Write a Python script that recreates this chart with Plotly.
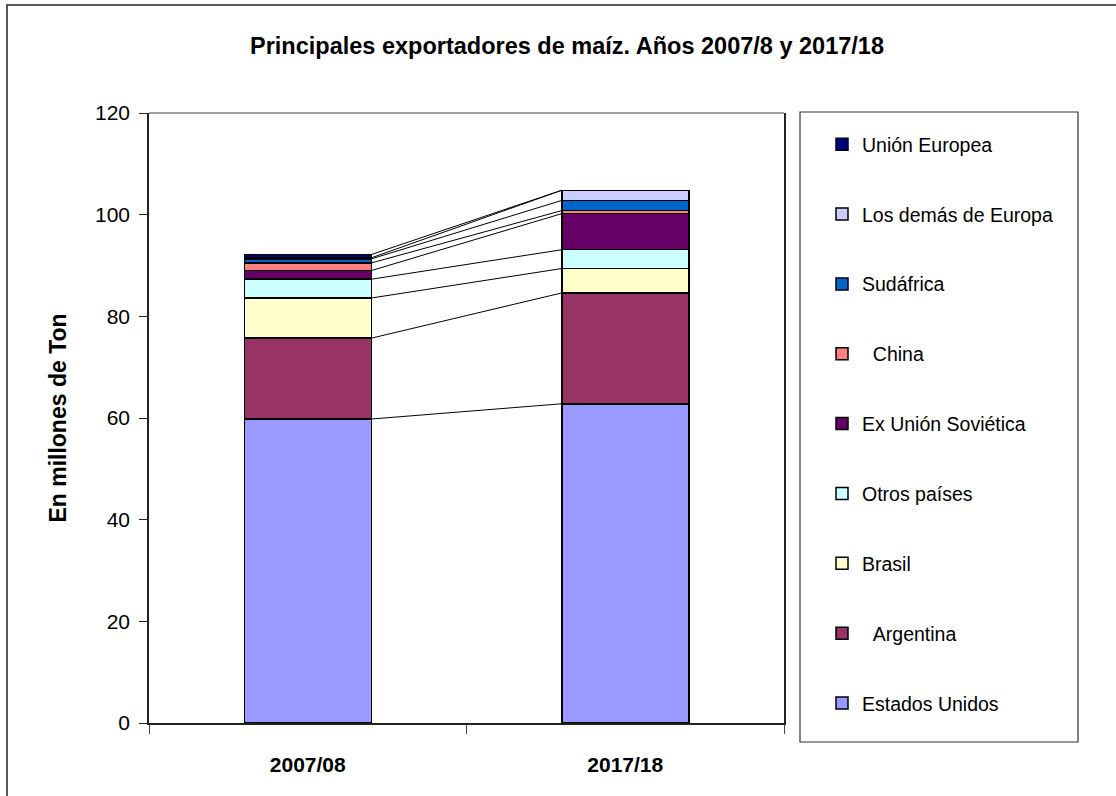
import plotly.graph_objects as go
import numpy as np

# ---- data ----
categorias = ["2007/08", "2017/18"]
series_nombres = [
    "Estados Unidos", "\u00a0\u00a0Argentina", "Brasil", "Otros países",
    "Ex Unión Soviética", "\u00a0\u00a0China", "Sudáfrica",
    "Los demás de Europa", "Unión Europea",
]
estados_unidos = [59.8, 62.8]
argentina = [15.9, 21.8]
brasil = [7.9, 4.8]
otros_paises = [3.7, 3.7]
ex_union_sovietica = [1.7, 7.1]
china = [1.5, 0.6]
sudafrica = [0.8, 2.0]
demas_europa = [0.2, 2.0]
union_europea = [0.65, 0.0]

colores = ["#9999FF", "#993366", "#FFFFCC", "#CCFFFF", "#660066",
           "#FF8080", "#0066CC", "#CCCCFF", "#000080"]

valores = [estados_unidos, argentina, brasil, otros_paises, ex_union_sovietica,
           china, sudafrica, demas_europa, union_europea]

# ---- layout geometry (pixels) ----
W, H = 1116, 796
L, R, T, B = 149, 784, 113, 723
FONT = "Liberation Sans, Arial, sans-serif"
bar_w = 0.4

def px_x(p):
    return (p - L) / (R - L)

def px_y(p):
    return (B - p) / (B - T)

x_pos = np.arange(len(categorias))
n = len(series_nombres)

fig = go.Figure()
for i, (nombre, vals, col) in enumerate(zip(series_nombres, valores, colores)):
    fig.add_trace(go.Bar(
        x=x_pos, y=vals, name=nombre, width=bar_w,
        marker=dict(color=col, line=dict(color="black", width=1.5)),
        legendgroup=f"g{i}", legendrank=1 + (n - 1 - i),
    ))

# series lines between bars
cum = np.cumsum(np.array(valores), axis=0)
for i in range(cum.shape[0]):
    fig.add_trace(go.Scatter(
        x=[x_pos[0] + bar_w / 2, x_pos[1] - bar_w / 2],
        y=[cum[i, 0], cum[i, 1]],
        mode="lines", line=dict(color="black", width=1),
        showlegend=False, hoverinfo="skip",
    ))

shapes = [
    # outer chart border
    dict(type="rect", xref="paper", yref="paper",
         x0=px_x(7), x1=px_x(W + 20), y0=px_y(H + 20), y1=px_y(5),
         line=dict(color="#222222", width=1.5), fillcolor="rgba(0,0,0,0)", layer="below"),
    # top line of plot area
    dict(type="line", xref="paper", yref="paper", x0=0, x1=1, y0=1, y1=1,
         line=dict(color="#808080", width=1.5)),
    # legend box
    dict(type="rect", xref="paper", yref="paper",
         x0=px_x(800), x1=px_x(1078), y0=px_y(742), y1=px_y(112),
         line=dict(color="#333333", width=1.2), fillcolor="rgba(0,0,0,0)"),
]

fig.update_layout(
    width=W, height=H,
    margin=dict(l=L, r=W - R, t=T, b=H - B, pad=0),
    paper_bgcolor="white", plot_bgcolor="white",
    barmode="stack",
    font=dict(family=FONT, color="black"),
    title=dict(text="<b>Principales exportadores de maíz. Años 2007/8 y 2017/18</b>",
               x=px_x(567), xanchor="center", xref="paper",
               y=1 - 46 / H, yanchor="middle", yref="container",
               font=dict(size=23.5, family=FONT, color="black")),
    showlegend=True,
    legend=dict(traceorder="grouped", tracegroupgap=41.5,
                x=px_x(822), xanchor="left", y=px_y(125), yanchor="top",
                maxheight=760,
                font=dict(size=19.5, family=FONT, color="black"),
                bgcolor="rgba(0,0,0,0)", borderwidth=0),
    shapes=shapes,
)

fig.update_xaxes(
    range=[-0.5, 1.5], tickmode="array", tickvals=x_pos, ticktext=[f"<b>{c}</b>" for c in categorias],
    ticks="", ticklabelstandoff=22,
    tickfont=dict(size=21, family=FONT, color="black"),
    showline=True, linecolor="#222222", linewidth=1.5, showgrid=False, zeroline=False,
    minor=dict(tickmode="array", tickvals=[-0.5, 0.5, 1.5], ticks="outside",
               ticklen=9, tickcolor="#444444", tickwidth=1, showgrid=False),
)
fig.update_yaxes(
    range=[0, 120], dtick=20, tick0=0,
    ticks="outside", ticklen=8, tickcolor="#222222", tickwidth=1,
    ticklabelstandoff=5,
    tickfont=dict(size=21, family=FONT, color="black"),
    showline=True, linecolor="#222222", linewidth=1.5, mirror=True,
    showgrid=False, zeroline=False,
    title=dict(text="<b>En millones de Ton</b>", font=dict(size=23, family=FONT, color="black"),
               standoff=22),
)

fig.write_html("out.html", config={"displayModeBar": False},
               post_script="document.body.style.margin='0px';")
